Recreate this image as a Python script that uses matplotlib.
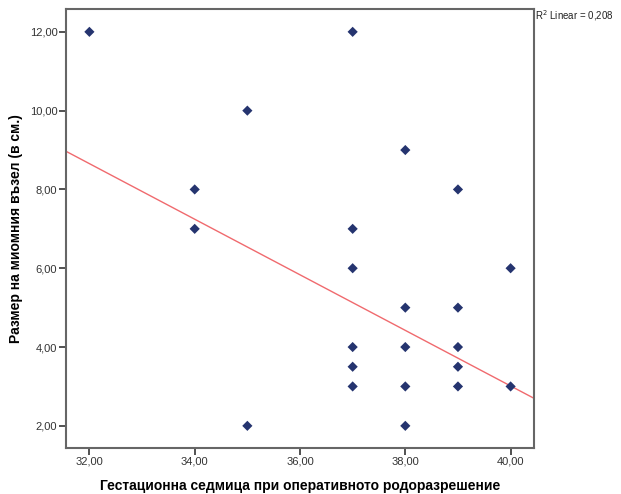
import numpy as np
import matplotlib
matplotlib.use("Agg")
import matplotlib.pyplot as plt

# gestational week vs. myoma size; n = how many cases share each point
week = [32, 34, 34, 35, 35, 37, 37, 37, 37, 37, 37, 38, 38, 38, 38, 38, 39, 39, 39, 39, 39, 40, 40]
size_cm = [12, 8, 7, 10, 2, 12, 7, 6, 4, 3.5, 3, 9, 5, 4, 3, 2, 8, 5, 4, 3.5, 3, 6, 3]
n_cases = [1, 1, 2, 1, 1, 1, 1, 1, 1, 3, 5, 1, 2, 1, 1, 3, 1, 1, 1, 1, 1, 1, 1]

x_ticks = [32, 34, 36, 38, 40]
y_ticks = [2, 4, 6, 8, 10, 12]

plt.rcParams['font.family'] = ['Liberation Sans', 'DejaVu Sans']

x = np.repeat(week, n_cases).astype(float)
y = np.repeat(size_cm, n_cases).astype(float)
slope, intercept = np.polyfit(x, y, 1)
r2 = np.corrcoef(x, y)[0, 1] ** 2

fig = plt.figure(figsize=(6.21, 4.94), dpi=100)
ax = fig.add_axes([0.1058, 0.0925, 0.7546, 0.8893])

ax.set_xlim(31.55, 40.45)
ax.set_ylim(1.43, 12.58)

ax.scatter(week, size_cm, marker='D', s=27, color='#25346f', edgecolors='none', zorder=3)

xs = np.array(ax.get_xlim())
ax.plot(xs, intercept + slope * xs, color='#f06a6e', linewidth=1.0, zorder=2)

ax.set_xticks(x_ticks)
ax.set_yticks(y_ticks)
ax.set_xticklabels([f"{v:.2f}".replace('.', ',') for v in x_ticks])
ax.set_yticklabels([f"{v:.2f}".replace('.', ',') for v in y_ticks])
ax.tick_params(direction='out', length=5, width=1.2, color='#333333',
               labelsize=8, labelcolor='#333333', pad=1)

for side in ['top', 'right', 'left', 'bottom']:
    ax.spines[side].set_color('#666666')
    ax.spines[side].set_linewidth(1.5)

ax.set_xlabel('Гестационна седмица при оперативното родоразрешение',
              fontsize=10, fontweight='bold', labelpad=9)
ax.set_ylabel('Размер на миомния възел (в см.)',
              fontsize=10, fontweight='bold', labelpad=5)

fig.text(0.862, 0.983, f"R$^2$ Linear = {r2:.3f}".replace('.', ','),
         fontsize=7, ha='left', va='top', color='#222222')

fig.savefig("out.png", dpi=100)
